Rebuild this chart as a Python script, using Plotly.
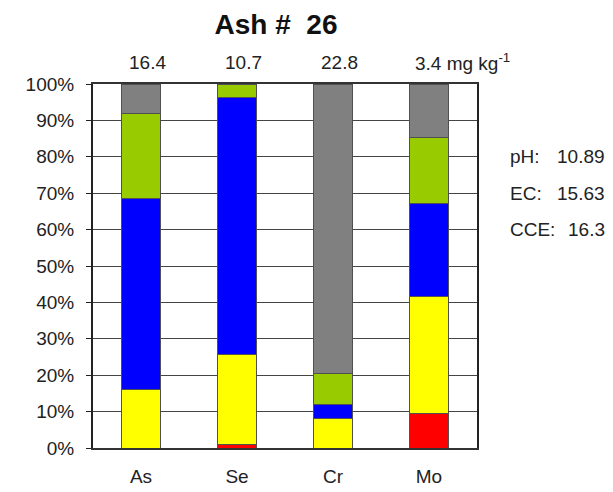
import plotly.graph_objects as go

categories = ["As", "Se", "Cr", "Mo"]
totals = ["16.4", "10.7", "22.8", "3.4 mg kg<sup>-1</sup>"]
series_names = ["Fraction 1", "Fraction 2", "Fraction 3", "Fraction 4", "Fraction 5"]
series_colors = ["#FF0000", "#FFFF00", "#0000FF", "#99CC00", "#808080"]
values = [
    [0.0, 0.9, 0.0, 9.6],     # red
    [16.0, 24.9, 8.0, 32.1],  # yellow
    [52.6, 70.6, 3.9, 25.5],  # blue
    [23.4, 3.6, 8.6, 18.2],   # green
    [8.0, 0.0, 79.5, 14.6],   # gray
]
side_labels = ["pH:", "EC:", "CCE:"]
side_values = ["10.89", "15.63", "16.3"]

# page is offset by the 8px body margin, so figure is 8px smaller
W, H = 605, 484
ML, MR, MT, MB = 85, 136, 76, 44
PH = H - MT - MB  # plot height in px

fig = go.Figure()
for name, color, vals in zip(series_names, series_colors, values):
    fig.add_trace(go.Bar(
        x=categories, y=vals, name=name,
        marker=dict(color=color, line=dict(color="#505050", width=1)),
        showlegend=False,
    ))

font_family = "Liberation Sans, Arial, sans-serif"
txt_font = dict(size=19, color="#222", family=font_family)

for cat, t in zip(categories, totals):
    is_unit = "mg" in t
    fig.add_annotation(
        x=cat, y=1.0, xref="x", yref="paper", yshift=22, yanchor="middle",
        text=t, showarrow=False, font=txt_font,
        xanchor="left" if is_unit else "center",
        xshift=-16 if is_unit else 6,
    )

side_ypix = [156 - 8, 193 - 8, 229 - 8]  # figure-pixel centres
for lab, val, ypix in zip(side_labels, side_values, side_ypix):
    ypaper = (H - MB - ypix) / PH
    fig.add_annotation(x=1.0, xref="paper", xshift=31, xanchor="left",
                       y=ypaper, yref="paper", yanchor="middle",
                       text=lab, showarrow=False, font=txt_font)
    fig.add_annotation(x=1.0, xref="paper", xshift=130, xanchor="right",
                       y=ypaper, yref="paper", yanchor="middle",
                       text=val, showarrow=False, font=txt_font)

fig.update_layout(
    width=W, height=H,
    margin=dict(l=ML, r=MR, t=MT, b=MB, pad=0),
    barmode="stack", bargap=0.6,
    plot_bgcolor="white", paper_bgcolor="white",
    font=dict(family=font_family, size=19, color="#222"),
    title=dict(text="<b>Ash #  26</b>", x=0.443, xanchor="center",
               y=1 - 16 / H, yanchor="middle",
               font=dict(size=28, color="#111", family=font_family)),
    xaxis=dict(range=[-0.5, 3.5], autorange=False, automargin=False,
               showline=True, linecolor="#333", linewidth=1.5, mirror=True,
               ticks="", showgrid=False, tickfont=dict(size=19), ticklabelstandoff=10),
    yaxis=dict(range=[0, 100], dtick=10, ticksuffix="%", automargin=False,
               showline=True, linecolor="#222",
               linewidth=2, mirror=True, ticks="outside", ticklen=5, tickcolor="#222",
               showgrid=True, gridcolor="#444", gridwidth=1, tickfont=dict(size=19),
               ticklabelstandoff=8),
)

fig.write_html("out.html")
